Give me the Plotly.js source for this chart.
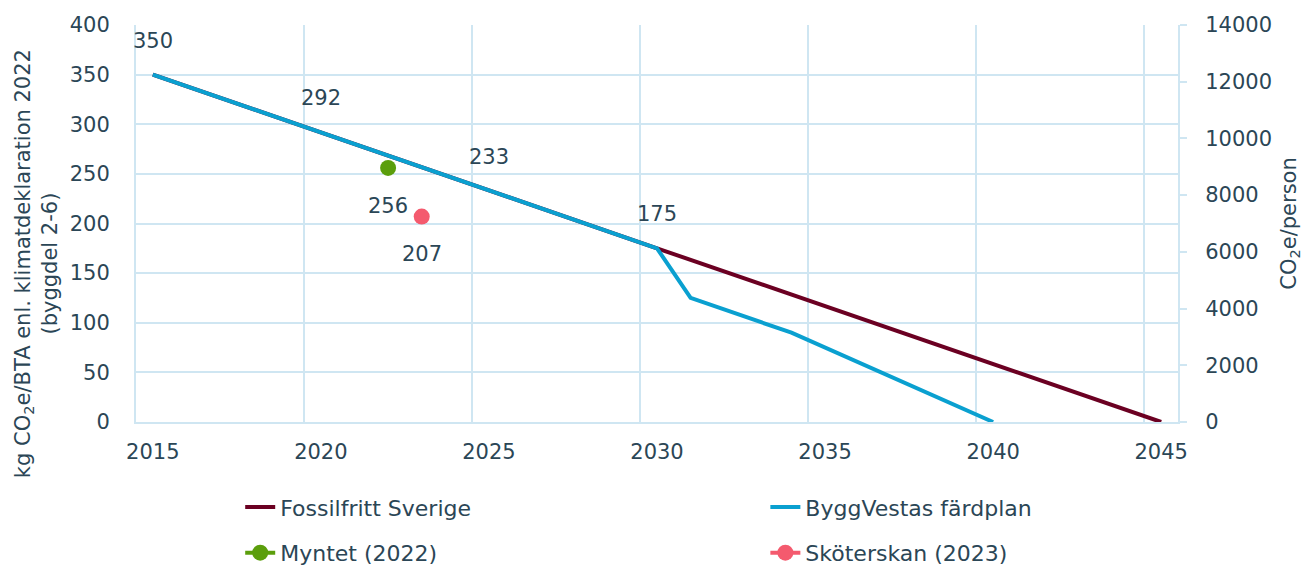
<!DOCTYPE html>
<html>
<head>
<meta charset="utf-8">
<script src="https://cdn.plot.ly/plotly-3.0.1.min.js"></script>
<style>html,body{margin:0;padding:0;background:#fff;}#chart{width:1306px;height:570px;}</style>
</head>
<body>
<div id="chart"></div>
<script>
// ---- data ----
const fossilYears = [2015, 2020, 2025, 2030, 2045];
const fossilValues = [350, 292, 233, 175, 0];
const byggYears = [2015, 2020, 2025, 2030, 2031, 2034, 2040];
const byggValues = [350, 292, 233, 175, 125, 90, 0];
const myntetYear = [2022];
const myntetValue = [256];
const skoterskanYear = [2023];
const skoterskanValue = [207];
const labelYears = [2015, 2020, 2025, 2030];
const labelValues = [350, 292, 233, 175];
const seriesNames = ['Fossilfritt Sverige', 'ByggVestas färdplan', 'Myntet (2022)', 'Sköterskan (2023)'];
const xTickVals = [2015, 2020, 2025, 2030, 2035, 2040, 2045];
const yLeftTicks = [0, 50, 100, 150, 200, 250, 300, 350, 400];
const yRightTicks = [0, 2000, 4000, 6000, 8000, 10000, 12000, 14000];

const txt = '#2b4656';
const grid = '#cfe6f2';
const FONT = 'DejaVu Sans';
const FS = 21;

const traces = [
  {x: fossilYears, y: fossilValues, name: seriesNames[0], mode: 'lines',
   line: {color: '#6b0022', width: 4}, legend: 'legend', legendgroup: 'a'},
  {x: byggYears, y: byggValues, name: seriesNames[1], mode: 'lines',
   line: {color: '#0aa0d0', width: 4}, legend: 'legend2', legendgroup: 'b'},
  {x: myntetYear, y: myntetValue, name: seriesNames[2], mode: 'lines+markers',
   line: {color: '#5b9e0c', width: 4}, marker: {color: '#5b9e0c', size: 16},
   legend: 'legend', legendgroup: 'c'},
  {x: skoterskanYear, y: skoterskanValue, name: seriesNames[3], mode: 'lines+markers',
   line: {color: '#f45a6e', width: 4}, marker: {color: '#f45a6e', size: 16},
   legend: 'legend2', legendgroup: 'd'}
];

const annotations = [];
labelYears.forEach((yr, i) => {
  annotations.push({x: yr, y: labelValues[i], xref: 'x', yref: 'y', text: String(labelValues[i]),
    showarrow: false, yshift: 34, font: {family: FONT, size: FS, color: txt}});
});
annotations.push({x: myntetYear[0], y: myntetValue[0], xref: 'x', yref: 'y', text: String(myntetValue[0]),
  showarrow: false, yshift: -38, font: {family: FONT, size: FS, color: txt}});
annotations.push({x: skoterskanYear[0], y: skoterskanValue[0], xref: 'x', yref: 'y', text: String(skoterskanValue[0]),
  showarrow: false, yshift: -37, font: {family: FONT, size: FS, color: txt}});
annotations.push({x: -0.096, y: 0.40, xref: 'paper', yref: 'paper', textangle: -90,
  text: 'kg CO<sub>2</sub>e/BTA enl. klimatdeklaration 2022<br>(byggdel 2-6)',
  showarrow: false, xanchor: 'center', yanchor: 'middle',
  font: {family: FONT, size: FS, color: txt}});

const layout = {
  width: 1306, height: 570,
  margin: {l: 136, r: 128, t: 25, b: 148, autoexpand: false},
  paper_bgcolor: '#fff', plot_bgcolor: '#fff',
  font: {family: FONT, size: FS, color: txt},
  showlegend: true,
  xaxis: {
    type: 'linear', range: [2014.5, 2045.5],
    tickmode: 'array', tickvals: xTickVals, ticktext: xTickVals.map(String),
    showgrid: false, zeroline: false, ticks: '',
    showline: true, linecolor: grid, linewidth: 2,
    tickfont: {family: FONT, size: FS, color: txt},
    ticklabelstandoff: 10,
    minor: {tickmode: 'linear', tick0: 2014.5, dtick: 5, showgrid: true, gridcolor: grid, gridwidth: 2, ticks: ''}
  },
  yaxis: {
    range: [0, 400], tickmode: 'array', tickvals: yLeftTicks,
    showgrid: true, gridcolor: grid, gridwidth: 2, zeroline: false,
    showline: true, linecolor: grid, linewidth: 2, ticks: '',
    ticklabelstandoff: 20,
    tickfont: {family: FONT, size: FS, color: txt}
  },
  yaxis2: {
    range: [0, 14000], tickmode: 'array', tickvals: yRightTicks, ticktext: yRightTicks.map(String),
    overlaying: 'y', side: 'right', anchor: 'x',
    showgrid: false, zeroline: false,
    showline: true, linecolor: grid, linewidth: 2,
    ticks: 'outside', ticklen: 7, tickcolor: grid, tickwidth: 2,
    ticklabelstandoff: 14,
    tickfont: {family: FONT, size: FS, color: txt},
    title: {text: 'CO<sub>2</sub>e/person', font: {family: FONT, size: FS, color: txt}, standoff: 10}
  },
  legend: {orientation: 'v', x: 0.100, xanchor: 'left', y: -0.162, yanchor: 'top',
    traceorder: 'grouped', tracegroupgap: 14, bgcolor: 'rgba(0,0,0,0)',
    font: {family: FONT, size: 22, color: txt}},
  legend2: {orientation: 'v', x: 0.604, xanchor: 'left', y: -0.162, yanchor: 'top',
    traceorder: 'grouped', tracegroupgap: 14, bgcolor: 'rgba(0,0,0,0)',
    font: {family: FONT, size: 22, color: txt}},
  annotations: annotations
};

// helper bound to the right axis (no data drawn)
traces.push({x: [], y: [], yaxis: 'y2', showlegend: false, hoverinfo: 'skip', mode: 'lines'});

Plotly.newPlot('chart', traces, layout, {displayModeBar: false, staticPlot: true});
</script>
</body>
</html>
